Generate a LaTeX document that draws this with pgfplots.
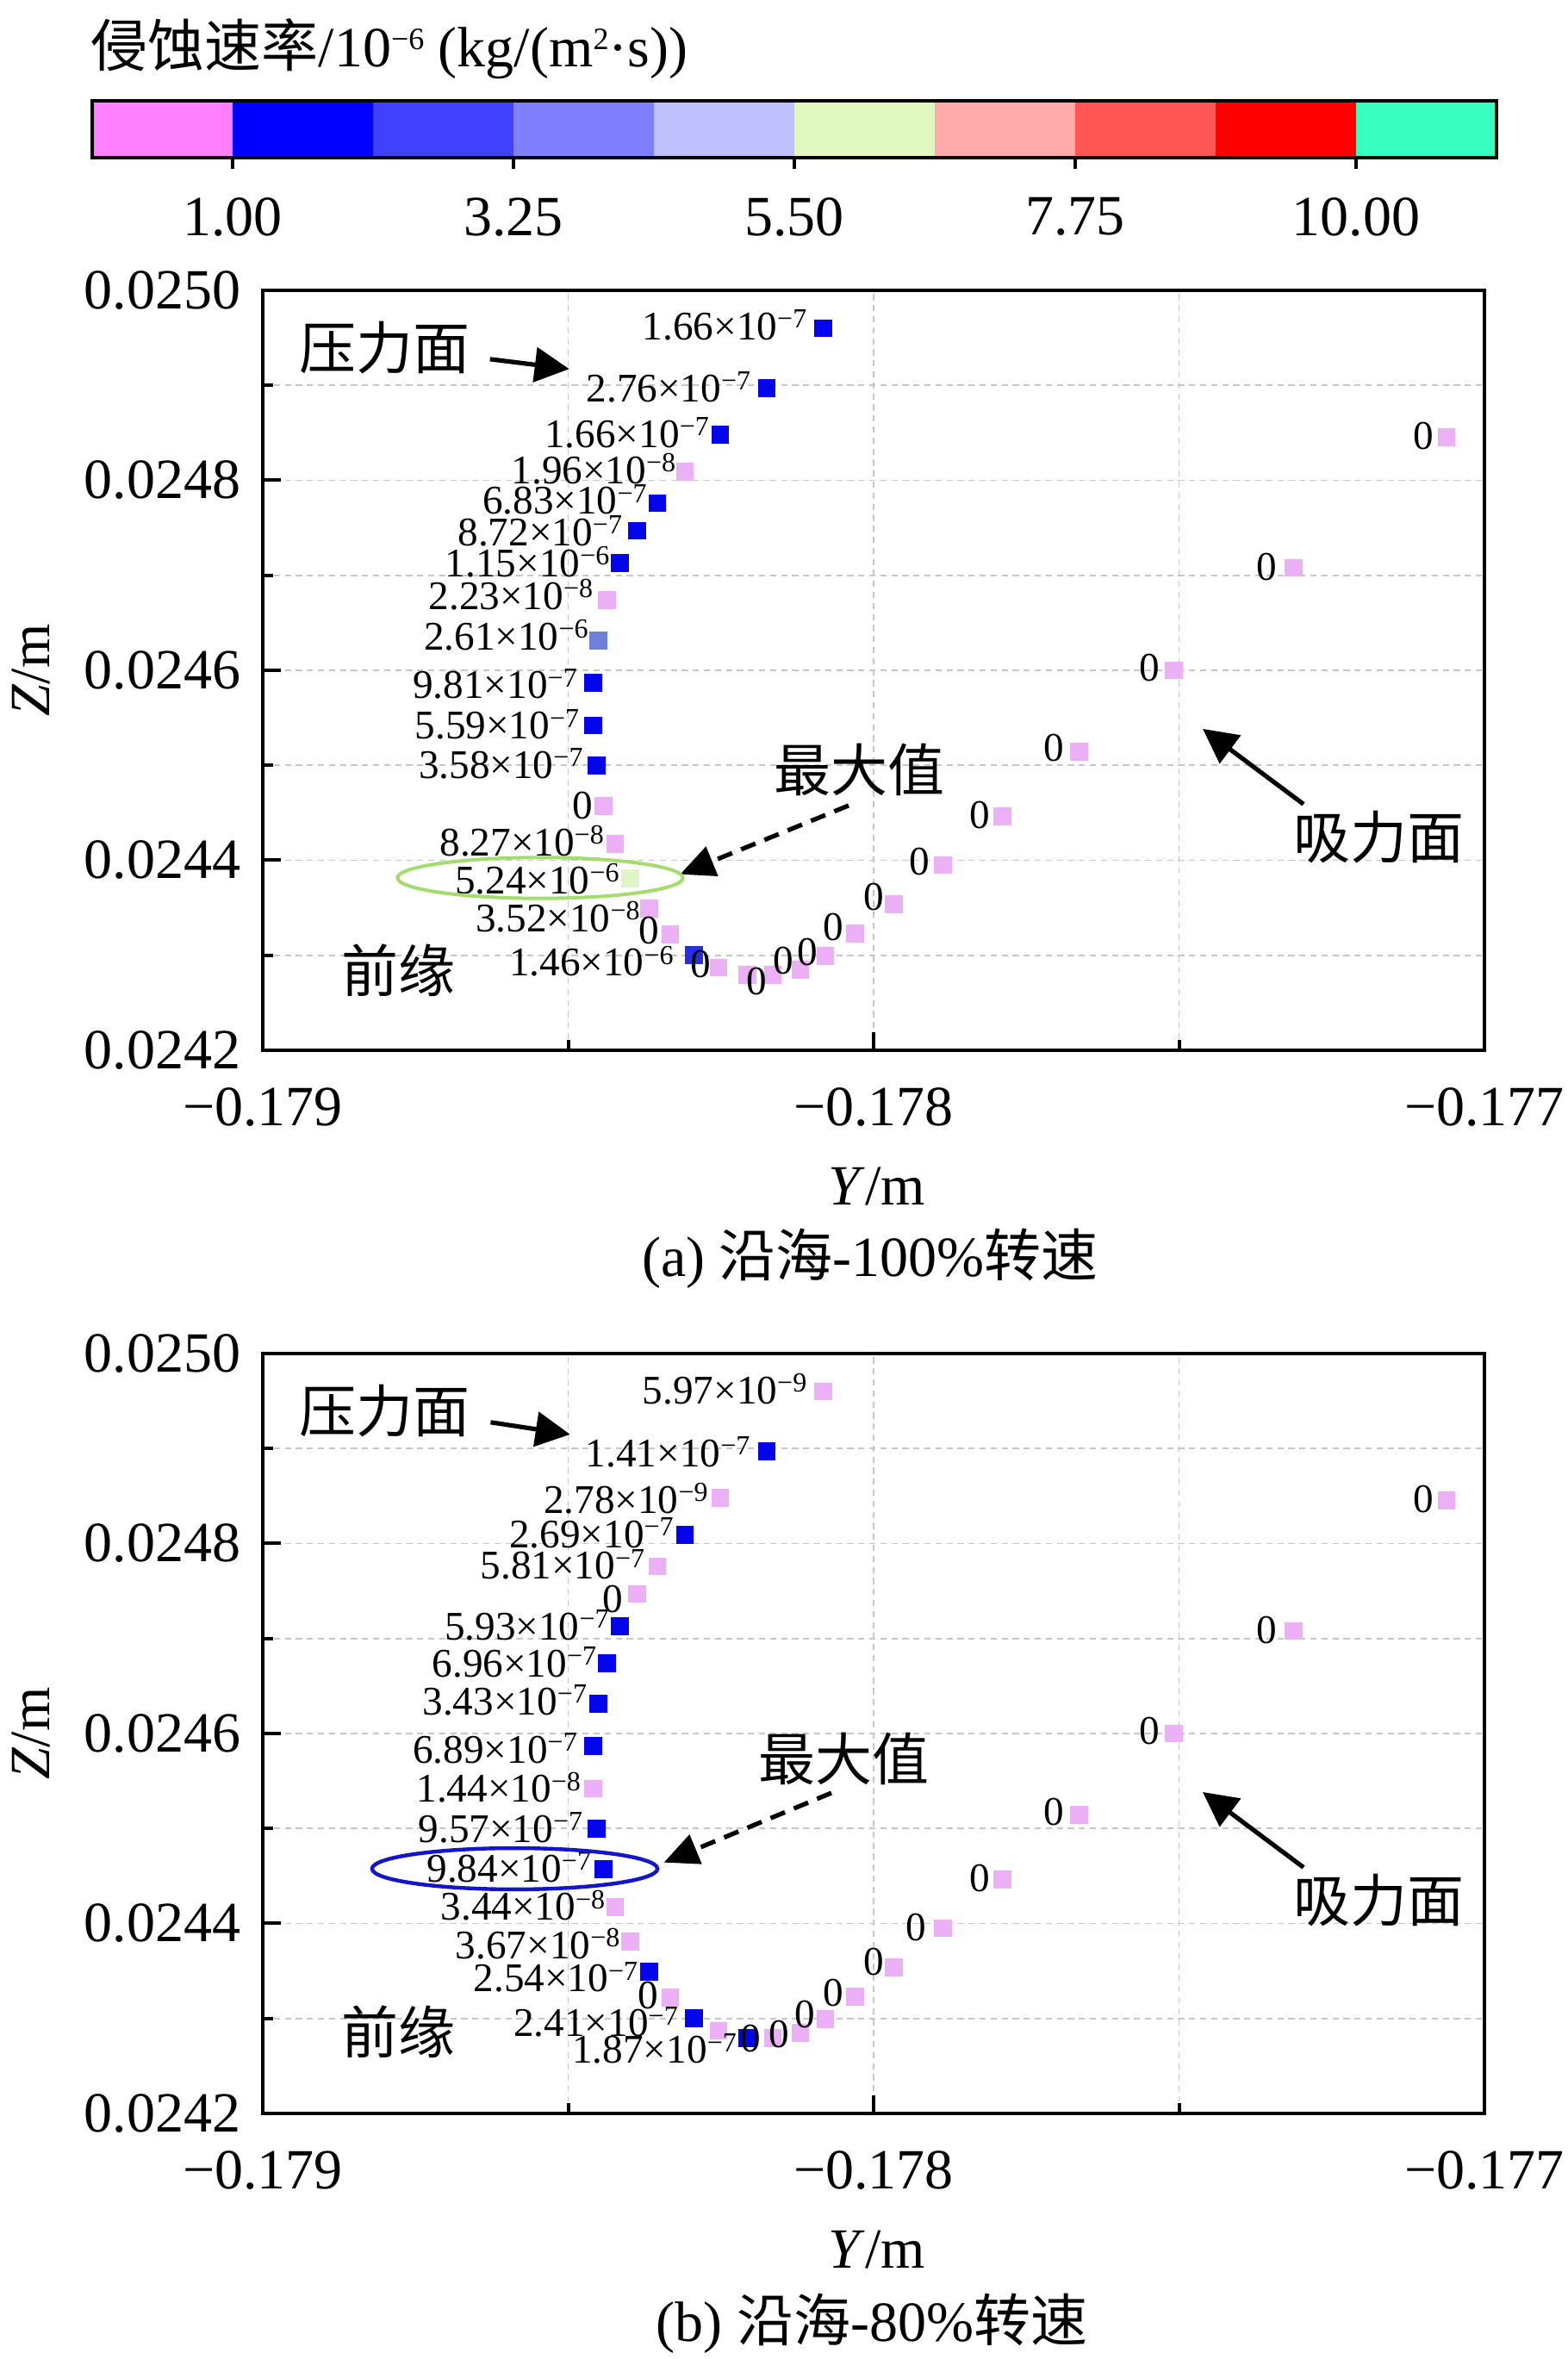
\documentclass[border=0pt]{standalone}
\usepackage{fontspec}
\setmainfont{Liberation Serif}
\newfontfamily\cjk{Noto Sans CJK SC}
\usepackage{pgfplots}
\pgfplotsset{compat=1.18}
\usepackage{pgfplotstable}
\usetikzlibrary{arrows.meta}

\definecolor{mp}{RGB}{235,176,245}
\definecolor{mb}{RGB}{5,5,235}
\definecolor{mb2}{RGB}{40,45,225}
\definecolor{mm}{RGB}{112,126,220}
\definecolor{mg}{RGB}{224,245,200}
\definecolor{cb1}{HTML}{FF80FF}
\definecolor{cb2}{HTML}{0000FF}
\definecolor{cb3}{HTML}{4040FF}
\definecolor{cb4}{HTML}{8080FF}
\definecolor{cb5}{HTML}{C0C0FF}
\definecolor{cb6}{HTML}{E0F8C0}
\definecolor{cb7}{HTML}{FFAAAA}
\definecolor{cb8}{HTML}{FF5555}
\definecolor{cb9}{HTML}{FF0000}
\definecolor{cb10}{HTML}{38FFC0}
\definecolor{ellg}{RGB}{165,220,110}
\definecolor{ellb}{RGB}{20,20,200}

\newcommand\tfont{\fontsize{16.5}{19.8}\selectfont}
\newcommand\lfont{\fontsize{11.8}{13}\selectfont}
\protected\def\sci#1#2{#1×10\raisebox{0.29em}{\fontsize{8}{8}\selectfont −#2}}
% label: #1 gap to marker centre (pt), #2 baseline shift (pt), #3 text
\protected\def\L#1#2#3{\raisebox{#2pt}{#3\hspace*{#1pt}}}

\pgfplotstableread{
x y c lab
-0.178082 0.024960 b \L{4.7}{-3.25}{\sci{1.66}{7}}
-0.178175 0.024897 b \L{4.5}{-4.0}{\sci{2.76}{7}}
-0.178251 0.024848 b \L{3.1}{-3.7}{\sci{1.66}{7}}
-0.178309 0.024809 p \L{2.5}{-3.4}{\sci{1.96}{8}}
-0.178354 0.024776 b \L{2.9}{-3.2}{\sci{6.83}{7}}
-0.178387 0.024747 b \L{4.2}{-4.3}{\sci{8.72}{7}}
-0.178415 0.024713 b \L{2.9}{-4.0}{\sci{1.15}{6}}
-0.178436 0.024674 p \L{4.0}{-2.8}{\sci{2.23}{8}}
-0.178451 0.024631 m \L{2.7}{-2.6}{\sci{2.61}{6}}
-0.178459 0.024587 b \L{4.5}{-4.6}{\sci{9.81}{7}}
-0.178459 0.024542 b \L{3.9}{-4.0}{\sci{5.59}{7}}
-0.178454 0.024500 b \L{3.7}{-3.75}{\sci{3.58}{7}}
-0.178442 0.024457 p \L{2.9}{-3.75}{0}
-0.178423 0.024417 p \L{3.1}{-3.35}{\sci{8.27}{8}}
-0.178398 0.024381 g \L{3.1}{-4.4}{\sci{5.24}{6}}
-0.178367 0.024349 p \L{2.6}{-6.6}{\sci{3.52}{8}}
-0.178333 0.024322 p \L{2.9}{-2.8}{0}
-0.178294 0.024300 c \L{5.8}{-6.0}{\sci{1.46}{6}}
-0.178254 0.024287 p \L{2.0}{-2.95}{0}
-0.178207 0.024279 p {}
-0.178165 0.024279 p \L{1.5}{-5.6}{0}
-0.178120 0.024285 p \L{1.7}{-1.4}{0}
-0.178079 0.024299 p \L{2.0}{-2.6}{0}
-0.178030 0.024323 p \L{3.15}{-1.95}{0}
-0.177967 0.024354 p \L{2.6}{-1.95}{0}
-0.177886 0.024395 p \L{3.7}{-2.95}{0}
-0.177789 0.024446 p \L{3.4}{-3.35}{0}
-0.177664 0.024514 p \L{4.1}{-2.8}{0}
-0.177508 0.024600 p \L{4.1}{-3.2}{0}
-0.177312 0.024708 p \L{4.7}{-3.7}{0}
-0.177062 0.024845 p \L{3.65}{-3.4}{0}
}\topdata

\pgfplotstableread{
x y c lab
-0.178082 0.024960 p \L{4.7}{-3.5}{\sci{5.97}{9}}
-0.178175 0.024897 b \L{4.7}{-4.5}{\sci{1.41}{7}}
-0.178251 0.024848 p \L{3.4}{-4.4}{\sci{2.78}{9}}
-0.178309 0.024809 b \L{3.1}{-3.75}{\sci{2.69}{7}}
-0.178354 0.024776 p \L{3.5}{-3.75}{\sci{5.81}{7}}
-0.178387 0.024747 p \L{3.9}{-5.4}{0}
-0.178415 0.024713 b \L{3.1}{-4.0}{\sci{5.93}{7}}
-0.178436 0.024674 b \L{3.0}{-4.0}{\sci{6.96}{7}}
-0.178451 0.024631 b \L{3.1}{-3.1}{\sci{3.43}{7}}
-0.178459 0.024587 b \L{4.5}{-5.0}{\sci{6.89}{7}}
-0.178459 0.024542 p \L{3.45}{-4.0}{\sci{1.44}{8}}
-0.178454 0.024500 b \L{3.8}{-4.0}{\sci{9.57}{7}}
-0.178442 0.024457 b \L{3.45}{-3.75}{\sci{9.84}{7}}
-0.178423 0.024417 p \L{2.8}{-3.75}{\sci{3.44}{8}}
-0.178398 0.024381 p \L{2.9}{-5.0}{\sci{3.67}{8}}
-0.178367 0.024349 b \L{3.2}{-5.8}{\sci{2.54}{7}}
-0.178333 0.024322 p \L{3.2}{-3.2}{0}
-0.178294 0.024300 b \L{4.5}{-5.25}{\sci{2.41}{7}}
-0.178254 0.024287 p {}
-0.178207 0.024279 b \L{2.9}{-7.2}{\sci{1.87}{7}}
-0.178165 0.024279 p \L{3.4}{-4.0}{0}
-0.178120 0.024285 p \L{3.1}{-4.25}{0}
-0.178079 0.024299 p \L{2.75}{-2.35}{0}
-0.178030 0.024323 p \L{3.1}{-2.8}{0}
-0.177967 0.024354 p \L{2.75}{-2.35}{0}
-0.177886 0.024395 p \L{4.7}{-3.6}{0}
-0.177789 0.024446 p \L{3.4}{-3.35}{0}
-0.177664 0.024514 p \L{4.1}{-2.8}{0}
-0.177508 0.024600 p \L{4.1}{-3.2}{0}
-0.177312 0.024708 p \L{4.7}{-3.7}{0}
-0.177062 0.024845 p \L{3.65}{-3.4}{0}
}\botdata

\pgfplotsset{
  blade/.style={
    anchor=south west, scale only axis, width=354.5pt, height=220.5pt,
    xmin=-0.179, xmax=-0.177, ymin=0.0242, ymax=0.0250,
    scaled ticks=false,
    xtick={-0.179,-0.178,-0.177}, xticklabels={−0.179,−0.178,−0.177},
    minor xtick={-0.1785,-0.1775},
    ytick={0.0242,0.0244,0.0246,0.0248,0.0250},
    yticklabels={0.0242,0.0244,0.0246,0.0248,0.0250},
    minor ytick={0.0243,0.0245,0.0247,0.0249},
    grid=both,
    major grid style={black!22, line width=0.45pt, dash pattern=on 1.8pt off 1.4pt},
    minor grid style={black!22, line width=0.45pt, dash pattern=on 1.8pt off 1.4pt},
    tick pos=left, tick align=inside,
    major tick length=5.2pt, minor tick length=3pt,
    every tick/.append style={black, line width=1pt},
    axis line style={line width=1.1pt},
    tick label style={font=\tfont},
    xticklabel style={anchor=center, yshift=-16.5pt},
    yticklabel style={anchor=east, inner sep=0pt, xshift=-6.25pt},
    clip=false,
  },
  marks/.style={scatter, only marks, scatter src=explicit symbolic,
    scatter/classes={
      p={mark=square*, mp},
      b={mark=square*, mb},
      c={mark=square*, mb2},
      m={mark=square*, mm},
      g={mark=square*, mg}},
    mark size=2.4pt},
  labs/.style={draw=none, mark=none,
    point meta=explicit symbolic,
    nodes near coords,
    nodes near coords align={anchor=base east},
    every node near coord/.append style={anchor=base east, inner sep=0pt,
      font=\lfont, text=black}},
}

\begin{document}
\begin{tikzpicture}
\path[use as bounding box] (0,0) rectangle (454.75pt,684.5pt);

% colour bar
\begin{axis}[at={(26.75pt,638.75pt)}, anchor=south west, scale only axis,
  width=407.5pt, height=16.5pt, xmin=0, xmax=10, ymin=0, ymax=1,
  ytick=\empty, xtick={1,3,5,7,9}, xticklabels={1.00,3.25,5.50,7.75,10.00},
  tick pos=left, tick align=outside, major tick length=3.2pt,
  every tick/.append style={black, line width=1pt},
  axis line style={line width=1.2pt}, axis on top,
  tick label style={font=\tfont},
  xticklabel style={anchor=center, yshift=-14pt}]
\addplot[fill=cb1, draw=none] coordinates {(0,1) (1,1)} \closedcycle;
\addplot[fill=cb2, draw=none] coordinates {(1,1) (2,1)} \closedcycle;
\addplot[fill=cb3, draw=none] coordinates {(2,1) (3,1)} \closedcycle;
\addplot[fill=cb4, draw=none] coordinates {(3,1) (4,1)} \closedcycle;
\addplot[fill=cb5, draw=none] coordinates {(4,1) (5,1)} \closedcycle;
\addplot[fill=cb6, draw=none] coordinates {(5,1) (6,1)} \closedcycle;
\addplot[fill=cb7, draw=none] coordinates {(6,1) (7,1)} \closedcycle;
\addplot[fill=cb8, draw=none] coordinates {(7,1) (8,1)} \closedcycle;
\addplot[fill=cb9, draw=none] coordinates {(8,1) (9,1)} \closedcycle;
\addplot[fill=cb10, draw=none] coordinates {(9,1) (10,1)} \closedcycle;
\end{axis}

% top panel
\begin{axis}[blade, at={(76.25pt,379.75pt)}]
\addplot[marks] table[x=x, y=y, meta=c] \topdata;
\addplot[labs] table[x=x, y=y, meta=lab] \topdata;
\end{axis}

% bottom panel
\begin{axis}[blade, at={(76.25pt,71.25pt)}]
\addplot[marks] table[x=x, y=y, meta=c] \botdata;
\addplot[labs] table[x=x, y=y, meta=lab] \botdata;
\end{axis}

\begin{scope}[x=0.25pt, y=-0.25pt, shift={(0pt,684.5pt)}]
\node[font=\tfont, anchor=west, inner sep=0pt] at (105,57)
  {{\cjk 侵蚀速率}/10\raisebox{5pt}{\fontsize{9}{9}\selectfont −6} (kg/(m\raisebox{5pt}{\fontsize{9}{9}\selectfont 2}·s))};
% top annotations
\node[font=\tfont\cjk] at (446,404) {压力面};
\draw[line width=1.3pt, -{Triangle[length=10pt,width=10pt]}] (568.7,416.9) -- (660.7,428.3);
\node[font=\tfont\cjk] at (997,893) {最大值};
\draw[line width=1.3pt, dash pattern=on 4.5pt off 2.8pt, -{Triangle[length=10pt,width=9pt]}] (985,935) -- (789.5,1014.8);
\draw[line width=1pt, ellg] (627,1019) ellipse [x radius=41.4pt, y radius=5.93pt];
\node[font=\tfont\cjk] at (1600,972) {吸力面};
\draw[line width=1.3pt, -{Triangle[length=10pt,width=10pt]}] (1513,933.4) -- (1396,846);
\node[font=\tfont\cjk] at (462,1126) {前缘};
\node[font=\tfont] at (1018,1377) {\textit{Y}/m};
\node[font=\tfont, rotate=90] at (36,778) {\textit{Z}/m};
\node[font=\tfont] at (1010,1461) {(a) {\cjk 沿海}-100\%{\cjk 转速}};
% bottom annotations
\node[font=\tfont\cjk] at (446,1638) {压力面};
\draw[line width=1.3pt, -{Triangle[length=10pt,width=10pt]}] (569.5,1650.8) -- (661.7,1664.9);
\node[font=\tfont\cjk] at (979,2041) {最大值};
\draw[line width=1.3pt, dash pattern=on 4.5pt off 2.8pt, -{Triangle[length=10pt,width=9pt]}] (965,2081) -- (770.6,2161.7);
\draw[line width=1.1pt, ellb] (597.5,2169) ellipse [x radius=41.4pt, y radius=5.98pt];
\node[font=\tfont\cjk] at (1600,2206) {吸力面};
\draw[line width=1.3pt, -{Triangle[length=10pt,width=10pt]}] (1513,2167.4) -- (1396,2080);
\node[font=\tfont\cjk] at (462,2358) {前缘};
\node[font=\tfont] at (1018,2611) {\textit{Y}/m};
\node[font=\tfont, rotate=90] at (36,2012) {\textit{Z}/m};
\node[font=\tfont] at (1012,2697) {(b) {\cjk 沿海}-80\%{\cjk 转速}};
\end{scope}
\end{tikzpicture}
\end{document}
